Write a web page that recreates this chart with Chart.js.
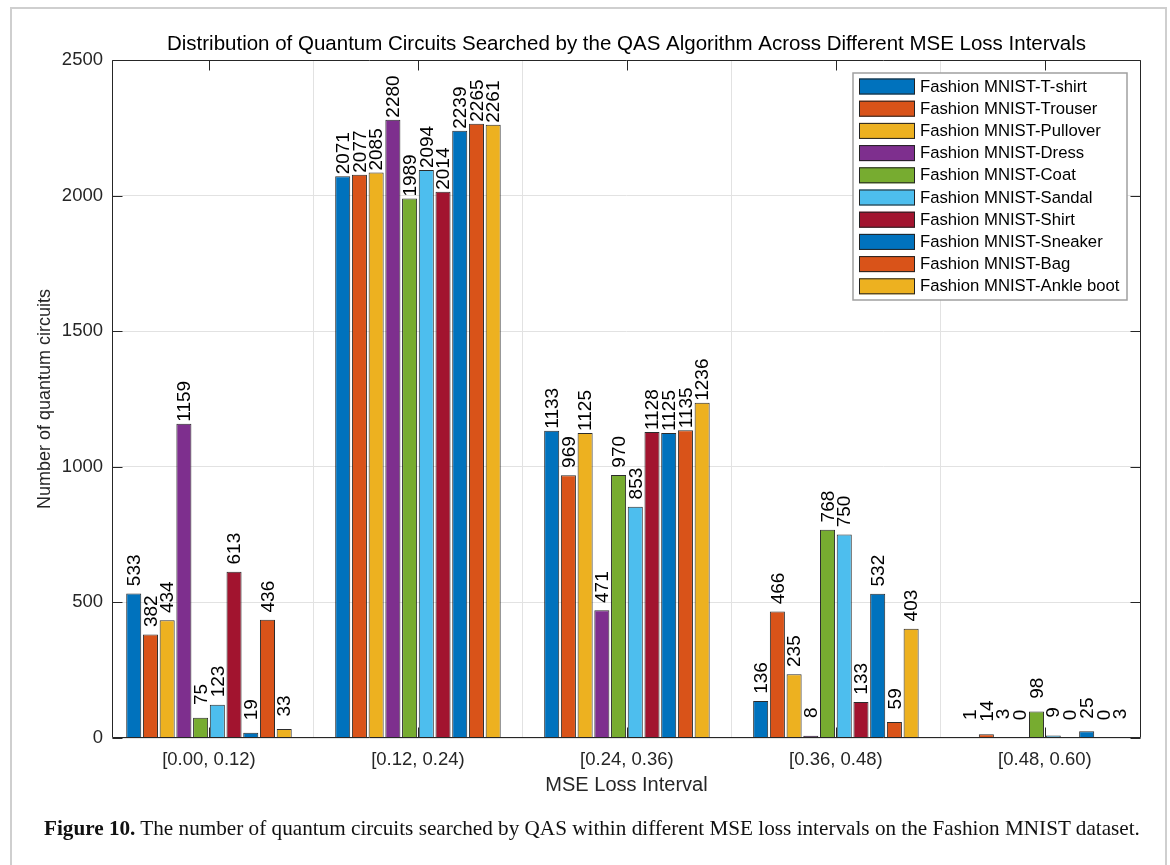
<!DOCTYPE html>
<html>
<head>
<meta charset="utf-8">
<title>Quantum circuits per MSE loss interval</title>
<script src="https://cdn.jsdelivr.net/npm/chart.js@4/dist/chart.umd.min.js"></script>
<style>
  html, body { margin: 0; padding: 0; background: #ffffff; }
  #wrap { position: relative; width: 1170px; height: 865px; overflow: hidden; }
  #frame { position: absolute; left: 10px; top: 7px; width: 1157px; height: 900px;
           border: 2px solid #cfcfcf; box-sizing: border-box; }
  #c { position: absolute; left: 0; top: 0; }
  #caption { position: absolute; left: 44px; top: 816px; white-space: nowrap;
             font-family: "Liberation Serif", "DejaVu Serif", serif; font-size: 21.2px; color: #111; }
</style>
</head>
<body>
<div id="wrap">
  <div id="frame"></div>
  <canvas id="c" width="1170" height="865"></canvas>
  <div id="caption"><b>Figure 10.</b> The number of quantum circuits searched by QAS within different MSE loss intervals on the Fashion MNIST dataset.</div>
</div>
<script>
// MSE loss intervals (x categories)
const intervals = ['[0.00, 0.12)', '[0.12, 0.24)', '[0.24, 0.36)', '[0.36, 0.48)', '[0.48, 0.60)'];

// Fashion MNIST classes (one bar series each)
const classNames = [
  'Fashion MNIST-T-shirt', 'Fashion MNIST-Trouser', 'Fashion MNIST-Pullover',
  'Fashion MNIST-Dress', 'Fashion MNIST-Coat', 'Fashion MNIST-Sandal',
  'Fashion MNIST-Shirt', 'Fashion MNIST-Sneaker', 'Fashion MNIST-Bag',
  'Fashion MNIST-Ankle boot'
];

// Number of searched circuits per interval, one array per class
const tshirt    = [533, 2071, 1133, 136, 1];
const trouser   = [382, 2077, 969, 466, 14];
const pullover  = [434, 2085, 1125, 235, 3];
const dress     = [1159, 2280, 471, 8, 0];
const coat      = [75, 1989, 970, 768, 98];
const sandal    = [123, 2094, 853, 750, 9];
const shirt     = [613, 2014, 1128, 133, 0];
const sneaker   = [19, 2239, 1125, 532, 25];
const bag       = [436, 2265, 1135, 59, 0];
const ankleBoot = [33, 2261, 1236, 403, 3];

const yTicks = [0, 500, 1000, 1500, 2000, 2500];

const chartTitle = 'Distribution of Quantum Circuits Searched by the QAS Algorithm Across Different MSE Loss Intervals';

// MATLAB default colour order
const palette = ['#0072BD', '#D95319', '#EDB120', '#7E2F8E', '#77AC30', '#4DBEEE', '#A2142F'];

const series = [tshirt, trouser, pullover, dress, coat, sandal, shirt, sneaker, bag, ankleBoot];

const SANS = '"Liberation Sans", Arial, Helvetica, sans-serif';
const INK = '#262626';

const datasets = series.map((vals, s) => ({
  label: classNames[s],
  data: vals.map((v, i) => ({ x: i + 1, y: v })),
  backgroundColor: palette[s % palette.length],
  borderColor: 'rgba(20,20,20,0.9)',
  borderWidth: 1,
  categoryPercentage: 0.8,
  barPercentage: 0.9
}));

// Title centred over the axes
const axesTitle = {
  id: 'axesTitle',
  afterDraw(chart) {
    const { ctx, chartArea: a } = chart;
    ctx.save();
    ctx.font = '20.5px ' + SANS;
    ctx.fillStyle = '#000';
    ctx.textAlign = 'center';
    ctx.textBaseline = 'middle';
    ctx.fillText(chartTitle, (a.left + a.right) / 2, a.top - 16);
    ctx.restore();
  }
};

// Box around the axes plus inward tick marks on all four sides
const axesBox = {
  id: 'axesBox',
  afterDatasetsDraw(chart) {
    const { ctx, chartArea: a, scales: { x, y } } = chart;
    const L = Math.round(a.left) + 0.5, R = Math.round(a.right) - 0.5;
    const T = Math.round(a.top) + 0.5, B = Math.round(a.bottom) - 0.5;
    ctx.save();
    ctx.strokeStyle = INK;
    ctx.lineWidth = 1;
    ctx.beginPath();
    ctx.rect(L, T, R - L, B - T);
    yTicks.forEach(v => {
      const py = Math.round(y.getPixelForValue(v)) + 0.5;
      ctx.moveTo(L, py); ctx.lineTo(L + 10, py);
      ctx.moveTo(R, py); ctx.lineTo(R - 10, py);
    });
    x.ticks.forEach(t => {
      const px = Math.round(x.getPixelForValue(t.value)) + 0.5;
      ctx.moveTo(px, T); ctx.lineTo(px, T + 10);
      ctx.moveTo(px, B); ctx.lineTo(px, B - 10);
    });
    ctx.stroke();
    ctx.restore();
  }
};

// Vertical value labels above each bar (right-aligned to four characters)
const barValues = {
  id: 'barValues',
  afterDatasetsDraw(chart) {
    const ctx = chart.ctx;
    ctx.save();
    ctx.font = '19px ' + SANS;
    ctx.fillStyle = '#000';
    ctx.textAlign = 'left';
    ctx.textBaseline = 'middle';
    chart.data.datasets.forEach((ds, di) => {
      chart.getDatasetMeta(di).data.forEach((el, i) => {
        const text = String(ds.data[i].y).padStart(4, ' ');
        ctx.save();
        ctx.translate(el.x + 1, el.y - 2);
        ctx.rotate(-Math.PI / 2);
        ctx.fillText(text, 0, 0);
        ctx.restore();
      });
    });
    ctx.restore();
  }
};

// Boxed legend in the upper-right corner of the axes
const boxLegend = {
  id: 'boxLegend',
  afterDraw(chart) {
    const { ctx, chartArea: a } = chart;
    const w = 274, rowH = 22.2, n = chart.data.datasets.length;
    const h = n * rowH + 5;
    const left = a.right - 14 - w, top = a.top + 13;
    ctx.save();
    ctx.fillStyle = '#fff';
    ctx.fillRect(left, top, w, h);
    ctx.strokeStyle = '#a0a0a0';
    ctx.lineWidth = 1.5;
    ctx.strokeRect(left, top, w, h);
    ctx.font = '16.7px ' + SANS;
    ctx.textAlign = 'left';
    ctx.textBaseline = 'middle';
    chart.data.datasets.forEach((ds, i) => {
      const sy = top + 5.5 + i * rowH;
      ctx.fillStyle = ds.backgroundColor;
      ctx.fillRect(left + 6, sy, 56, 16);
      ctx.strokeStyle = '#222';
      ctx.lineWidth = 1;
      ctx.strokeRect(left + 6.5, sy + 0.5, 55, 15);
      ctx.fillStyle = '#000';
      ctx.fillText(ds.label, left + 67, sy + 8.5);
    });
    ctx.restore();
  }
};

new Chart(document.getElementById('c'), {
  type: 'bar',
  data: { datasets },
  options: {
    responsive: false,
    animation: false,
    devicePixelRatio: 1,
    layout: { padding: { left: 0, right: 29, top: 60, bottom: 65 } },
    plugins: {
      legend: { display: false },
      tooltip: { enabled: false },
      title: { display: false }
    },
    scales: {
      x: {
        type: 'linear',
        min: 0.536,
        max: 5.46,
        offset: false,
        afterBuildTicks: s => { s.ticks = intervals.map((_, i) => ({ value: i + 1 })); },
        afterFit: s => { s.height = 62; },
        ticks: {
          color: INK,
          font: { family: SANS, size: 18.5 },
          padding: 11,
          maxRotation: 0,
          autoSkip: false,
          callback: v => intervals[Math.round(v) - 1] || ''
        },
        grid: { color: '#e2e2e2', drawTicks: false },
        border: { display: false },
        title: {
          display: true,
          text: 'MSE Loss Interval',
          color: INK,
          font: { family: SANS, size: 20 },
          padding: { top: 0, bottom: 3 }
        }
      },
      y: {
        min: 0,
        max: 2500,
        afterBuildTicks: s => { s.ticks = yTicks.map(v => ({ value: v })); },
        afterFit: s => { s.width = 112; },
        ticks: {
          color: INK,
          font: { family: SANS, size: 18.5 },
          padding: 9,
          callback: v => String(v)
        },
        grid: { color: '#e2e2e2', drawTicks: false },
        border: { display: false },
        title: {
          display: true,
          text: 'Number of quantum circuits',
          color: INK,
          font: { family: SANS, size: 18 },
          padding: { top: 34, bottom: 0 }
        }
      }
    }
  },
  plugins: [axesBox, barValues, boxLegend, axesTitle]
});
</script>
</body>
</html>
